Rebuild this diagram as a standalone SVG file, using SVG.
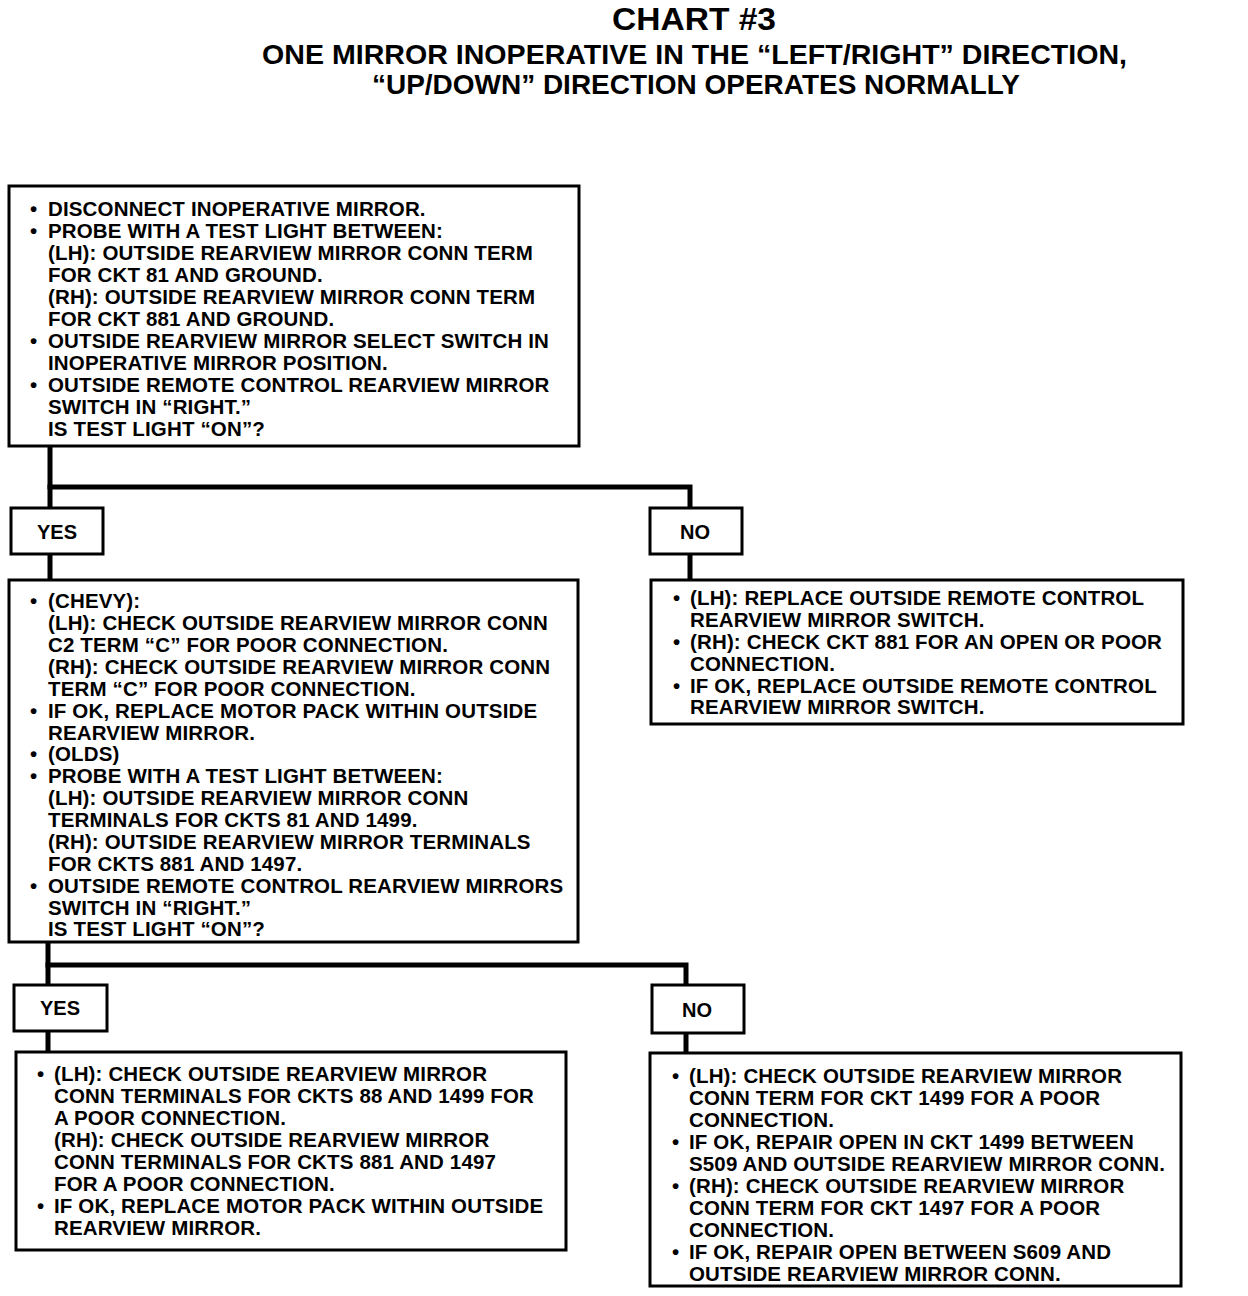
<svg xmlns="http://www.w3.org/2000/svg" width="1248" height="1296" viewBox="0 0 1248 1296">
<style>
.b{fill:#fff;stroke:#000;stroke-width:3}
.c{fill:none;stroke:#000;stroke-width:5;stroke-linecap:square}
.t{font-family:"Liberation Sans",Arial,sans-serif;font-weight:bold;font-size:20.5px;letter-spacing:0.15px;fill:#000}
.h{font-family:"Liberation Sans",Arial,sans-serif;font-weight:bold;fill:#000}
.l{font-family:"Liberation Sans",Arial,sans-serif;font-weight:bold;font-size:20px;fill:#000;text-anchor:middle}
</style>
<rect width="1248" height="1296" fill="#fff"/>
<g id="title">
<text class="h" x="612" y="30" font-size="32" textLength="164" lengthAdjust="spacingAndGlyphs">CHART #3</text>
<text class="h" x="262" y="64" font-size="28" textLength="865" lengthAdjust="spacingAndGlyphs">ONE MIRROR INOPERATIVE IN THE “LEFT/RIGHT” DIRECTION,</text>
<text class="h" x="372" y="94" font-size="28" textLength="648" lengthAdjust="spacingAndGlyphs">“UP/DOWN” DIRECTION OPERATES NORMALLY</text>
</g>
<g id="connectors">
<polyline class="c" points="50,446 50,508"/>
<polyline class="c" points="50,487 690,487 690,508"/>
<polyline class="c" points="50,554 50,580"/>
<polyline class="c" points="690,554 690,580"/>
<polyline class="c" points="48,942 48,985"/>
<polyline class="c" points="48,965 686,965 686,985"/>
<polyline class="c" points="48,1031 48,1052"/>
<polyline class="c" points="686,1033 686,1053"/>
</g>
<g id="n1">
<rect class="b" x="9" y="186" width="570" height="260"/>
<text class="t">
<tspan x="30" y="216">•</tspan><tspan x="48" y="216">DISCONNECT INOPERATIVE MIRROR.</tspan>
<tspan x="30" y="238">•</tspan><tspan x="48" y="238">PROBE WITH A TEST LIGHT BETWEEN:</tspan>
<tspan x="48" y="260">(LH): OUTSIDE REARVIEW MIRROR CONN TERM</tspan>
<tspan x="48" y="282">FOR CKT 81 AND GROUND.</tspan>
<tspan x="48" y="304">(RH): OUTSIDE REARVIEW MIRROR CONN TERM</tspan>
<tspan x="48" y="326">FOR CKT 881 AND GROUND.</tspan>
<tspan x="30" y="348">•</tspan><tspan x="48" y="348">OUTSIDE REARVIEW MIRROR SELECT SWITCH IN</tspan>
<tspan x="48" y="370">INOPERATIVE MIRROR POSITION.</tspan>
<tspan x="30" y="392">•</tspan><tspan x="48" y="392">OUTSIDE REMOTE CONTROL REARVIEW MIRROR</tspan>
<tspan x="48" y="414">SWITCH IN “RIGHT.”</tspan>
<tspan x="48" y="436">IS TEST LIGHT “ON”?</tspan>
</text>
</g>
<g id="yes1">
<rect class="b" x="11" y="508" width="92" height="46"/>
<text class="l" x="57" y="539">YES</text>
</g>
<g id="no1">
<rect class="b" x="650" y="508" width="92" height="46"/>
<text class="l" x="695" y="539">NO</text>
</g>
<g id="n2">
<rect class="b" x="9" y="580" width="569" height="362"/>
<text class="t">
<tspan x="30" y="608">•</tspan><tspan x="48" y="608">(CHEVY):</tspan>
<tspan x="48" y="630">(LH): CHECK OUTSIDE REARVIEW MIRROR CONN</tspan>
<tspan x="48" y="652">C2 TERM “C” FOR POOR CONNECTION.</tspan>
<tspan x="48" y="674">(RH): CHECK OUTSIDE REARVIEW MIRROR CONN</tspan>
<tspan x="48" y="696">TERM “C” FOR POOR CONNECTION.</tspan>
<tspan x="30" y="718">•</tspan><tspan x="48" y="718">IF OK, REPLACE MOTOR PACK WITHIN OUTSIDE</tspan>
<tspan x="48" y="740">REARVIEW MIRROR.</tspan>
<tspan x="30" y="761">•</tspan><tspan x="48" y="761">(OLDS)</tspan>
<tspan x="30" y="783">•</tspan><tspan x="48" y="783">PROBE WITH A TEST LIGHT BETWEEN:</tspan>
<tspan x="48" y="805">(LH): OUTSIDE REARVIEW MIRROR CONN</tspan>
<tspan x="48" y="827">TERMINALS FOR CKTS 81 AND 1499.</tspan>
<tspan x="48" y="849">(RH): OUTSIDE REARVIEW MIRROR TERMINALS</tspan>
<tspan x="48" y="871">FOR CKTS 881 AND 1497.</tspan>
<tspan x="30" y="893">•</tspan><tspan x="48" y="893">OUTSIDE REMOTE CONTROL REARVIEW MIRRORS</tspan>
<tspan x="48" y="915">SWITCH IN “RIGHT.”</tspan>
<tspan x="48" y="936">IS TEST LIGHT “ON”?</tspan>
</text>
</g>
<g id="n3">
<rect class="b" x="651" y="580" width="532" height="144"/>
<text class="t">
<tspan x="673" y="605">•</tspan><tspan x="690" y="605">(LH): REPLACE OUTSIDE REMOTE CONTROL</tspan>
<tspan x="690" y="627">REARVIEW MIRROR SWITCH.</tspan>
<tspan x="673" y="649">•</tspan><tspan x="690" y="649">(RH): CHECK CKT 881 FOR AN OPEN OR POOR</tspan>
<tspan x="690" y="671">CONNECTION.</tspan>
<tspan x="673" y="693">•</tspan><tspan x="690" y="693">IF OK, REPLACE OUTSIDE REMOTE CONTROL</tspan>
<tspan x="690" y="714">REARVIEW MIRROR SWITCH.</tspan>
</text>
</g>
<g id="yes2">
<rect class="b" x="14" y="985" width="93" height="46"/>
<text class="l" x="60" y="1015">YES</text>
</g>
<g id="no2">
<rect class="b" x="652" y="985" width="92" height="48"/>
<text class="l" x="697" y="1017">NO</text>
</g>
<g id="n4">
<rect class="b" x="16" y="1052" width="550" height="198"/>
<text class="t">
<tspan x="37" y="1081">•</tspan><tspan x="54" y="1081">(LH): CHECK OUTSIDE REARVIEW MIRROR</tspan>
<tspan x="54" y="1103">CONN TERMINALS FOR CKTS 88 AND 1499 FOR</tspan>
<tspan x="54" y="1125">A POOR CONNECTION.</tspan>
<tspan x="54" y="1147">(RH): CHECK OUTSIDE REARVIEW MIRROR</tspan>
<tspan x="54" y="1169">CONN TERMINALS FOR CKTS 881 AND 1497</tspan>
<tspan x="54" y="1191">FOR A POOR CONNECTION.</tspan>
<tspan x="37" y="1213">•</tspan><tspan x="54" y="1213">IF OK, REPLACE MOTOR PACK WITHIN OUTSIDE</tspan>
<tspan x="54" y="1235">REARVIEW MIRROR.</tspan>
</text>
</g>
<g id="n5">
<rect class="b" x="650" y="1053" width="531" height="233"/>
<text class="t">
<tspan x="672" y="1083">•</tspan><tspan x="689" y="1083">(LH): CHECK OUTSIDE REARVIEW MIRROR</tspan>
<tspan x="689" y="1105">CONN TERM FOR CKT 1499 FOR A POOR</tspan>
<tspan x="689" y="1127">CONNECTION.</tspan>
<tspan x="672" y="1149">•</tspan><tspan x="689" y="1149">IF OK, REPAIR OPEN IN CKT 1499 BETWEEN</tspan>
<tspan x="689" y="1171">S509 AND OUTSIDE REARVIEW MIRROR CONN.</tspan>
<tspan x="672" y="1193">•</tspan><tspan x="689" y="1193">(RH): CHECK OUTSIDE REARVIEW MIRROR</tspan>
<tspan x="689" y="1215">CONN TERM FOR CKT 1497 FOR A POOR</tspan>
<tspan x="689" y="1237">CONNECTION.</tspan>
<tspan x="672" y="1259">•</tspan><tspan x="689" y="1259">IF OK, REPAIR OPEN BETWEEN S609 AND</tspan>
<tspan x="689" y="1281">OUTSIDE REARVIEW MIRROR CONN.</tspan>
</text>
</g>
</svg>
